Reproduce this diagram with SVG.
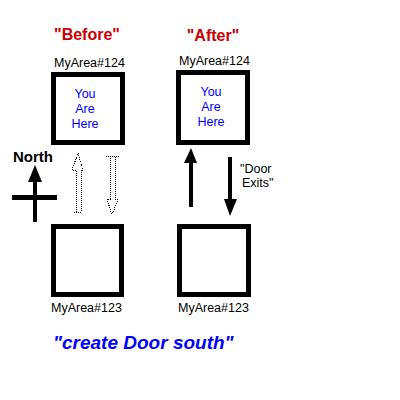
<svg xmlns="http://www.w3.org/2000/svg" width="400" height="400" viewBox="0 0 400 400">
  <style>
    text { font-family: "Liberation Sans", Arial, sans-serif; }
    .room { fill: #ffffff; stroke: #000000; stroke-width: 5; }
    .lbl { font-size: 12.5px; fill: #000000; }
    .here { font-size: 12.5px; fill: #0000ff; text-anchor: middle; }
    .title { font-size: 16px; font-weight: bold; fill: #cc0000; text-anchor: middle; }
    .dots { fill: none; stroke: #000000; stroke-width: 1; stroke-dasharray: 1 1; shape-rendering: crispEdges; }
  </style>
  <rect width="400" height="400" fill="#ffffff"/>

  <!-- headings -->
  <text class="title" x="87" y="40">"Before"</text>
  <text class="title" x="213" y="41">"After"</text>

  <!-- Before: upper room -->
  <g id="before-124">
    <rect class="room" x="53.5" y="74.5" width="69" height="68"/>
    <text class="lbl" x="54" y="67">MyArea#124</text>
    <text class="here" x="85" y="98">You</text>
    <text class="here" x="85" y="113">Are</text>
    <text class="here" x="85" y="128">Here</text>
  </g>

  <!-- Before: lower room -->
  <g id="before-123">
    <rect class="room" x="53.5" y="226.5" width="68" height="68"/>
    <text class="lbl" x="51" y="312">MyArea#123</text>
  </g>

  <!-- After: upper room -->
  <g id="after-124">
    <rect class="room" x="178.5" y="72.5" width="69" height="70"/>
    <text class="lbl" x="179" y="65">MyArea#124</text>
    <text class="here" x="211" y="96">You</text>
    <text class="here" x="211" y="111">Are</text>
    <text class="here" x="211" y="126">Here</text>
  </g>

  <!-- After: lower room -->
  <g id="after-123">
    <rect class="room" x="179.5" y="226.5" width="69" height="68"/>
    <text class="lbl" x="178" y="312">MyArea#123</text>
  </g>

  <!-- compass -->
  <g id="compass">
    <text x="13" y="162" font-size="15" font-weight="bold" fill="#000000">North</text>
    <rect x="33" y="176" width="4" height="46" fill="#000000"/>
    <polygon points="35,165 28,182 42,182" fill="#000000"/>
    <rect x="12" y="195" width="45" height="5" fill="#000000"/>
  </g>

  <!-- connectors -->
  <g id="connectors">
    <!-- potential exits (dotted outline arrows) -->
    <polygon class="dots" points="78,153 83,170 81,170 81,212 72.5,212 76,212 76,170 72,170"/>
    <polygon class="dots" points="106,156.5 119.5,156.5 115,156.5 115,199 118,199 112,215 107,199 110,199 110,156.5"/>
    <!-- created exits (solid arrows) -->
    <rect x="189" y="160" width="4" height="47" fill="#000000"/>
    <polygon points="191,148 184,163 197,163" fill="#000000"/>
    <rect x="228" y="157" width="4" height="44" fill="#000000"/>
    <polygon points="230,216 224,199 237,199" fill="#000000"/>
    <text class="lbl" x="240" y="173">"Door</text>
    <text class="lbl" x="242" y="187">Exits"</text>
  </g>

  <text x="53" y="349" font-size="19" font-weight="bold" font-style="italic" fill="#0000ff">"create Door south"</text>
</svg>
